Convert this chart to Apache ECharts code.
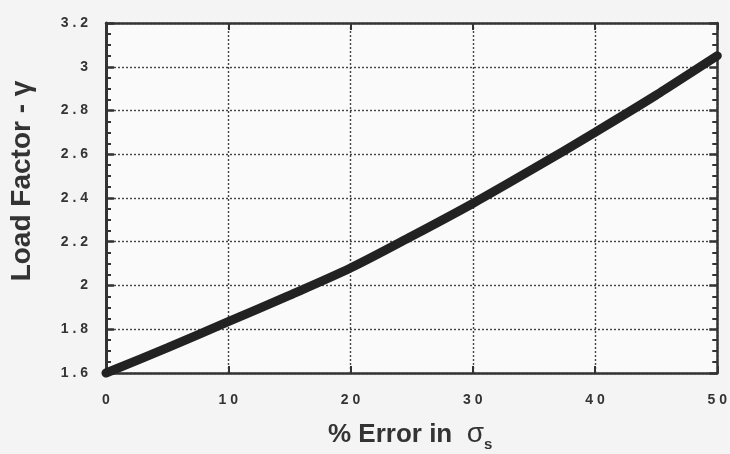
<!DOCTYPE html>
<html>
<head>
<meta charset="utf-8">
<script src="https://cdn.jsdelivr.net/npm/echarts@6/dist/echarts.min.js"></script>
<style>
html,body{margin:0;padding:0;background:#f4f4f4;}
#c{width:730px;height:454px;}
</style>
</head>
<body>
<div id="c"></div>
<script>
// Data
var errorPct = [0, 5, 10, 15, 20, 25, 30, 35, 40, 45, 50];
var loadFactor = [1.6, 1.715, 1.835, 1.955, 2.08, 2.225, 2.375, 2.535, 2.70, 2.87, 3.05];
var xTicks = [0, 10, 20, 30, 40, 50];
var yTicks = [1.6, 1.8, 2, 2.2, 2.4, 2.6, 2.8, 3, 3.2];
var xTitle = '% Error in ';
var xTitleSym = 'σ';
var xTitleSub = 's';
var yTitle = 'Load Factor - γ';

var ink = '#333333';
var fontFam = '"Liberation Sans", Arial, sans-serif';
function spaced(v){ return String(+v.toFixed(1)).split('').join(' '); }

var chart = echarts.init(document.getElementById('c'), null, {renderer:'canvas'});
var pts = errorPct.map(function(x,i){ return [x, loadFactor[i]]; });

chart.setOption({
  backgroundColor: '#f4f4f4',
  animation: false,
  grid: {left:106, right:11, top:23, bottom:81, show:true, borderWidth:0, backgroundColor:'#fafafa'},
  xAxis: [{
    type:'value', min:0, max:50, interval:10, position:'bottom',
    axisLine:{show:true, onZero:false, lineStyle:{color:ink, width:2.5}},
    axisTick:{show:true, inside:true, length:7, lineStyle:{color:ink, width:2}},
    axisLabel:{color:ink, fontFamily:fontFam, fontWeight:'bold', fontSize:14, margin:20, formatter:spaced},
    splitLine:{show:true, lineStyle:{color:'#444', width:1.4, type:[2,2]}}
  },{
    type:'value', min:0, max:50, interval:10, position:'top',
    axisLine:{show:true, onZero:false, lineStyle:{color:ink, width:2.5}},
    axisTick:{show:true, inside:true, length:7, lineStyle:{color:ink, width:2}},
    axisLabel:{show:false}, splitLine:{show:false}
  }],
  yAxis: [{
    type:'value', min:1.6, max:3.2, interval:0.2, position:'left',
    axisLine:{show:true, onZero:false, lineStyle:{color:ink, width:3}},
    axisTick:{show:true, inside:true, length:8, lineStyle:{color:ink, width:2.5}},
    minorTick:{show:true, splitNumber:4, length:5, lineStyle:{color:ink, width:2}},
    axisLabel:{color:ink, fontFamily:fontFam, fontWeight:'bold', fontSize:14, margin:18, formatter:spaced},
    splitLine:{show:true, lineStyle:{color:'#444', width:1.4, type:[2,2]}}
  },{
    type:'value', min:1.6, max:3.2, interval:0.2, position:'right',
    axisLine:{show:true, onZero:false, lineStyle:{color:ink, width:2.5}},
    axisTick:{show:true, inside:true, length:8, lineStyle:{color:ink, width:2.5}},
    minorTick:{show:true, splitNumber:4, length:5, lineStyle:{color:ink, width:2}},
    axisLabel:{show:false}, splitLine:{show:false}
  }],
  graphic: [{
    type:'text', x:328, y:417,
    style:{
      text:'{a|' + xTitle + ' }{b|' + xTitleSym + '}{c|' + xTitleSub + '}',
      rich:{
        a:{fontFamily:fontFam, fontWeight:'bold', fontSize:26, fill:ink},
        b:{fontFamily:fontFam, fontSize:28, fill:ink},
        c:{fontFamily:fontFam, fontWeight:'bold', fontSize:15, fill:ink, padding:[20,0,0,0]}
      }
    }
  },{
    type:'text', x:8, y:181, rotation:Math.PI/2,
    style:{
      text: yTitle, fontFamily:fontFam, fontWeight:'bold', fontSize:28, fill:ink,
      align:'center', verticalAlign:'top'
    }
  }],
  series: [{
    type:'line', data:pts, xAxisIndex:0, yAxisIndex:0,
    smooth:0.3, showSymbol:false, clip:false,
    lineStyle:{color:'#222', width:9, cap:'round'}
  }]
});
</script>
</body>
</html>
